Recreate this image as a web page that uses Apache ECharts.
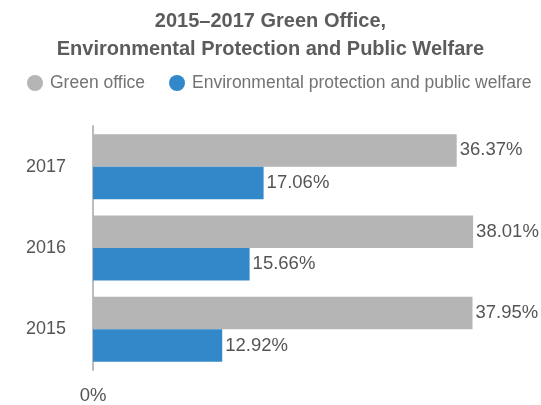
<!DOCTYPE html>
<html>
<head>
<meta charset="utf-8">
<script src="https://cdn.jsdelivr.net/npm/echarts@6/dist/echarts.min.js"></script>
<style>html,body{margin:0;padding:0;background:#fff}#c{width:541px;height:405px}</style>
</head>
<body>
<div id="c"></div>
<script>
var categories = ['2015', '2016', '2017'];
var greenOffice = [37.95, 38.01, 36.37];
var envProtection = [12.92, 15.66, 17.06];
var seriesNames = ['Green office', 'Environmental protection and public welfare'];
var titleText = '2015–2017 Green Office,\nEnvironmental Protection and Public Welfare';

var FONT = '"Liberation Sans", Arial, Helvetica, sans-serif';
var chart = echarts.init(document.getElementById('c'));
function pct(p) { return p.value.toFixed(2) + '%'; }
chart.setOption({
  animation: false,
  textStyle: { fontFamily: FONT },
  title: {
    text: titleText,
    left: 'center',
    top: 2,
    textStyle: { fontFamily: FONT, fontSize: 20, fontWeight: 'bold', color: '#5c5c5c', lineHeight: 28 }
  },
  legend: {
    data: seriesNames,
    top: 74,
    left: 27,
    width: 514,
    padding: 0,
    icon: 'circle',
    itemWidth: 16,
    itemHeight: 16,
    itemGap: 24,
    textStyle: { fontFamily: FONT, fontSize: 17.5, color: '#737373', padding: [0, 0, 0, 2] }
  },
  grid: { left: 93, right: 48, top: 126, bottom: 30, containLabel: false },
  xAxis: {
    type: 'value',
    min: 0,
    max: 40,
    interval: 40,
    axisLine: { show: false },
    axisTick: { show: false },
    splitLine: { show: false },
    axisLabel: {
      margin: 16,
      fontSize: 18.5,
      color: '#555',
      fontFamily: FONT,
      formatter: function (v) { return v === 0 ? '0%' : ''; }
    }
  },
  yAxis: {
    type: 'category',
    data: categories,
    axisLine: { show: true, lineStyle: { color: '#bdbdbd', width: 2 } },
    axisTick: { show: false },
    axisLabel: { margin: 27, fontSize: 18, color: '#555', fontFamily: FONT }
  },
  series: [
    {
      name: seriesNames[0],
      type: 'bar',
      data: greenOffice,
      barGap: '0%',
      barCategoryGap: '20%',
      itemStyle: { color: '#b4b5b4' },
      label: { show: true, position: 'right', distance: 3, fontSize: 18.5, color: '#555', fontFamily: FONT, formatter: pct }
    },
    {
      name: seriesNames[1],
      type: 'bar',
      data: envProtection,
      barGap: '0%',
      barCategoryGap: '20%',
      itemStyle: { color: '#3388c9' },
      label: { show: true, position: 'right', distance: 3, fontSize: 18.5, color: '#555', fontFamily: FONT, formatter: pct }
    }
  ]
});
</script>
</body>
</html>
